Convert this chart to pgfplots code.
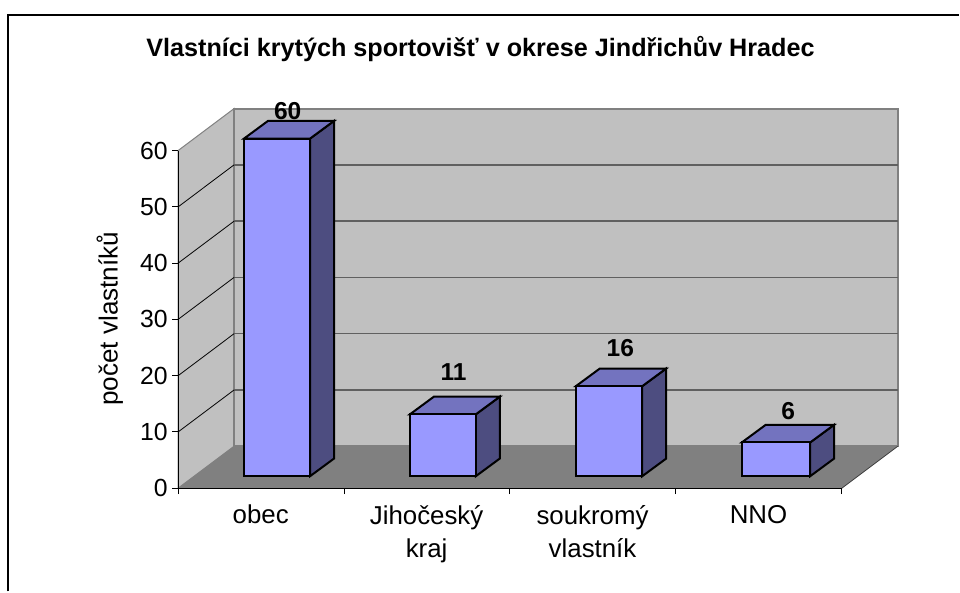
\documentclass[border=0pt]{standalone}
\usepackage{fontspec}
\setmainfont{Liberation Sans}
\usepackage{pgfplots}
\pgfplotsset{compat=1.18}

\definecolor{stena}{HTML}{C0C0C0}
\definecolor{podlaha}{HTML}{808080}
\definecolor{mrizka}{HTML}{606060}
\definecolor{celo}{HTML}{9999FF}
\definecolor{vrsek}{HTML}{7373BF}
\definecolor{bok}{HTML}{4D4D80}

% 1 px = 0.75 pt; hloubka sloupce 24 x 17.7 px, podstava 12 px nad osou
\newcommand{\sloupec}[3]{%
  \pgfmathsetmacro{\xa}{#1}%
  \pgfmathsetmacro{\xb}{#2}%
  \pgfmathsetmacro{\xc}{#2+0.1445}%
  \pgfmathsetmacro{\xd}{#1+0.1445}%
  \pgfmathsetmacro{\ya}{2.13}%
  \pgfmathsetmacro{\yb}{2.13+#3}%
  \pgfmathsetmacro{\yc}{2.13+3.14}%
  \pgfmathsetmacro{\yd}{2.13+#3+3.14}%
  \edef\kresli{%
    \noexpand\addplot[fill=bok,draw=black,line width=1.5pt,line join=miter] coordinates
      {(\xb,\ya) (\xb,\yb) (\xc,\yd) (\xc,\yc)} --cycle;
    \noexpand\addplot[fill=vrsek,draw=black,line width=1.5pt,line join=miter] coordinates
      {(\xa,\yb) (\xb,\yb) (\xc,\yd) (\xd,\yd)} --cycle;
    \noexpand\addplot[fill=celo,draw=black,line width=1.5pt,line join=miter] coordinates
      {(\xa,\ya) (\xb,\ya) (\xb,\yb) (\xa,\yb)} --cycle;
  }%
  \kresli
}

\begin{document}
\begin{tikzpicture}
\begin{axis}[
  scale only axis,
  width=498.3pt, height=253.5pt,
  xmin=0, xmax=4, ymin=0, ymax=60,
  clip=false,
  axis on top,
  axis x line=bottom, axis y line=left,
  axis line style={-,black,line width=0.75pt},
  tick align=outside,
  major tick length=4.5pt, minor tick length=4.5pt,
  tick style={black,line width=0.75pt},
  major x tick style={draw=none},
  xtick={0.5,1.5,2.5,3.5},
  minor xtick={0,1,2,3,4},
  xticklabels={obec,Jihočeský\\kraj,soukromý\\vlastník,NNO},
  ytick={0,10,...,60},
  /pgf/number format/assume math mode=true,
  xticklabel style={align=center,anchor=north,yshift=-4.6pt,xshift=-0.3pt,
    font=\fontsize{19.4}{24.75}\selectfont},
  yticklabel style={font=\fontsize{18.6}{22}\selectfont,xshift=0.2pt},
  title={Vlastníci krytých sportovišť v okrese Jindřichův Hradec},
  every axis title/.style={at={(axis description cs:0.4556,1.278)},anchor=base,inner sep=0pt,
    font=\bfseries\fontsize{18.9}{22}\selectfont},
  ylabel={počet vlastníků},
  every axis y label/.style={at={(axis description cs:-0.1028,0.502)},rotate=90,anchor=center,
    font=\fontsize{19.6}{22}\selectfont},
]
% plocha obrazku 960 x 592 px
\path[fill=white] (axis cs:-1.0735,-18.34) rectangle (axis cs:4.7062,86.76);

% leva stena, zadni stena, podlaha
\addplot[fill=stena,draw=podlaha,line width=0.75pt] coordinates
  {(0,0) (0,60) (0.3372,67.46) (0.3372,7.46)} --cycle;
\addplot[fill=stena,draw=podlaha,line width=1.5pt] coordinates
  {(0.3372,7.46) (0.3372,67.46) (4.3372,67.46) (4.3372,7.46)} --cycle;

% mrizka na zadni stene
\addplot[mrizka,line width=1.2pt] coordinates {(0.3372,17.46) (4.3372,17.46)};
\addplot[mrizka,line width=1.2pt] coordinates {(0.3372,27.46) (4.3372,27.46)};
\addplot[mrizka,line width=1.2pt] coordinates {(0.3372,37.46) (4.3372,37.46)};
\addplot[mrizka,line width=1.2pt] coordinates {(0.3372,47.46) (4.3372,47.46)};
\addplot[mrizka,line width=1.2pt] coordinates {(0.3372,57.46) (4.3372,57.46)};

% mrizka na leve stene
\addplot[black,line width=0.6pt] coordinates {(0,10) (0.3372,17.46)};
\addplot[black,line width=0.6pt] coordinates {(0,20) (0.3372,27.46)};
\addplot[black,line width=0.6pt] coordinates {(0,30) (0.3372,37.46)};
\addplot[black,line width=0.6pt] coordinates {(0,40) (0.3372,47.46)};
\addplot[black,line width=0.6pt] coordinates {(0,50) (0.3372,57.46)};

\addplot[fill=podlaha,draw=none] coordinates
  {(0,0) (4,0) (4.3372,7.46) (0.3372,7.46)} --cycle;
\addplot[black!75,line width=0.6pt] coordinates {(4,0) (4.3372,7.46)};

% sloupce: levy okraj, pravy okraj, hodnota
\sloupec{0.397}{0.795}{60}
\sloupec{1.397}{1.794}{11}
\sloupec{2.397}{2.797}{16}
\sloupec{3.397}{3.809}{6}

% popisky hodnot
\addplot[draw=none,nodes near coords,point meta=explicit symbolic,
  nodes near coords align={center},
  every node near coord/.append style={anchor=base,inner sep=0pt,
    font=\bfseries\fontsize{18.4}{22}\selectfont}]
  table[meta=v] {
  x      y      v
  0.6604 65.45  60
  1.6598 19.12  11
  2.665  23.43  16
  3.676  12.2   6
};

% ramecek (vidime jen levou a horni stranu)
\draw[black,line width=1.5pt] (axis cs:-1.0254,-18.34) -- (axis cs:-1.0254,84.1) -- (axis cs:4.7062,84.1);
\end{axis}
\end{tikzpicture}
\end{document}
